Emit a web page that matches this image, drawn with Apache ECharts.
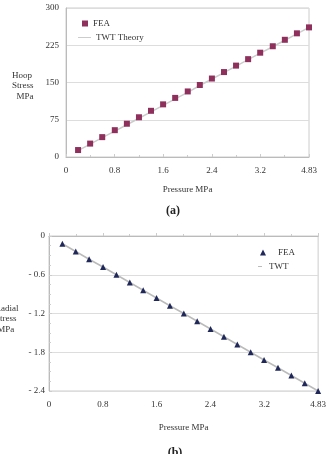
<!DOCTYPE html>
<html>
<head>
<meta charset="utf-8">
<script src="https://cdn.jsdelivr.net/npm/echarts@6/dist/echarts.min.js"></script>
<style>
html, body { margin: 0; padding: 0; background: #fff; }
#chart { width: 329px; height: 454px; }
</style>
</head>
<body>
<div id="chart"></div>
<script>
// pressure steps, MPa
const pressure = [0.24, 0.48, 0.72, 0.97, 1.21, 1.45, 1.69, 1.93, 2.17, 2.42,
                  2.66, 2.90, 3.14, 3.38, 3.62, 3.86, 4.11, 4.35, 4.59, 4.83];

const hoopFEA = [14, 27, 40, 54, 67, 80, 93, 106, 119, 132,
                 145, 158, 171, 184, 197, 210, 223, 236, 249, 261];
const hoopTWT = [13, 26, 39, 52, 65, 78, 91, 104, 117, 130,
                 144, 157, 170, 183, 196, 209, 222, 235, 248, 261];

const radialFEA = [-0.12, -0.24, -0.36, -0.48, -0.60, -0.72, -0.84, -0.96, -1.08, -1.20,
                   -1.32, -1.44, -1.56, -1.68, -1.80, -1.92, -2.04, -2.16, -2.28, -2.40];
const radialTWT = [-0.12, -0.24, -0.36, -0.48, -0.60, -0.72, -0.84, -0.96, -1.08, -1.20,
                   -1.32, -1.44, -1.56, -1.68, -1.80, -1.92, -2.04, -2.16, -2.28, -2.40];

const xTickLabels = ["0", "0.8", "1.6", "2.4", "3.2", "4.83"];

const serif = "Liberation Serif";
const textColor = "#333";
const xStep = 4.83 / 5;

function pairs(xs, ys) {
    return xs.map((x, i) => [x, ys[i]]);
}

function xAxisFor(gridIndex, nameGap) {
    return {
        gridIndex: gridIndex,
        type: "value",
        min: 0,
        max: 4.83,
        interval: xStep,
        name: "Pressure MPa",
        nameLocation: "middle",
        nameGap: nameGap,
        nameTextStyle: { fontFamily: serif, fontSize: 9, color: textColor },
        axisLine: { lineStyle: { color: "#bbb" } },
        axisTick: { inside: true, length: 3, lineStyle: { color: "#ccc" } },
        minorTick: { show: true, splitNumber: 2, length: 2, lineStyle: { color: "#ccc" } },
        splitLine: { show: false },
        axisLabel: {
            fontFamily: serif, fontSize: 9, color: textColor, margin: 9,
            formatter: v => xTickLabels[Math.round(v / xStep)]
        }
    };
}

const chart = echarts.init(document.getElementById("chart"));

chart.setOption({
    backgroundColor: "#fff",
    animation: false,
    grid: [
        { left: 66, top: 8, width: 243, height: 149, show: true, borderColor: "#ccc", borderWidth: 1 },
        { left: 49, top: 236, width: 273, height: 155, show: true, borderColor: "#ccc", borderWidth: 1 }
    ],
    legend: [
        {
            data: ["FEA"], left: 77, top: 14, icon: "rect",
            itemWidth: 6, itemHeight: 6, itemStyle: { opacity: 1 },
            textStyle: { fontFamily: serif, fontSize: 9, color: textColor }
        },
        {
            data: ["TWT Theory"], left: 73, top: 28, icon: "rect",
            itemWidth: 13, itemHeight: 1,
            textStyle: { fontFamily: serif, fontSize: 9, color: textColor }
        },
        {
            data: ["FEA "], left: 255, top: 243, icon: "triangle",
            itemWidth: 6, itemHeight: 6, itemStyle: { opacity: 1 },
            textStyle: { fontFamily: serif, fontSize: 9, color: textColor, padding: [0, 0, 0, 7] }
        },
        {
            data: ["TWT"], left: 253, top: 257, icon: "rect",
            itemWidth: 4, itemHeight: 1,
            textStyle: { fontFamily: serif, fontSize: 9, color: textColor, padding: [0, 0, 0, 2] }
        }
    ],
    xAxis: [xAxisFor(0, 28), xAxisFor(1, 32)],
    yAxis: [
        {
            gridIndex: 0, type: "value", min: 0, max: 300, interval: 75,
            axisLine: { show: true, lineStyle: { color: "#bbb" } },
            axisTick: { show: false },
            splitLine: { lineStyle: { color: "#ddd" } },
            axisLabel: { fontFamily: serif, fontSize: 9, color: textColor, margin: 7 }
        },
        {
            gridIndex: 1, type: "value", min: -2.4, max: 0, interval: 0.6,
            axisLine: { show: true, lineStyle: { color: "#bbb" } },
            axisTick: { show: true, inside: true, length: 3, lineStyle: { color: "#ccc" } },
            minorTick: { show: true, splitNumber: 4, length: 2, lineStyle: { color: "#ccc" } },
            splitLine: { lineStyle: { color: "#ddd" } },
            axisLabel: {
                fontFamily: serif, fontSize: 9, color: textColor, margin: 4,
                formatter: v => v === 0 ? "0" : "- " + Math.abs(v).toFixed(1)
            }
        }
    ],
    series: [
        {
            name: "TWT Theory", type: "line", xAxisIndex: 0, yAxisIndex: 0, z: 2,
            data: pairs(pressure, hoopTWT), showSymbol: false,
            color: "#ccc", lineStyle: { color: "#ccc", width: 1.5 }
        },
        {
            name: "FEA", type: "scatter", xAxisIndex: 0, yAxisIndex: 0, z: 5,
            data: pairs(pressure, hoopFEA), symbol: "rect", symbolSize: 6,
            itemStyle: { color: "#8e2f5c", opacity: 1 }
        },
        {
            name: "TWT", type: "line", xAxisIndex: 1, yAxisIndex: 1, z: 2,
            data: pairs(pressure, radialTWT), showSymbol: false,
            color: "#bbb", lineStyle: { color: "#bbb", width: 1.5 }
        },
        {
            name: "FEA ", type: "scatter", xAxisIndex: 1, yAxisIndex: 1, z: 5,
            data: pairs(pressure, radialFEA), symbol: "triangle", symbolSize: 6,
            itemStyle: { color: "#1f2858", opacity: 1 }
        }
    ],
    graphic: [
        {
            type: "text", left: 12, top: 70,
            style: { text: "Hoop\nStress\n  MPa", font: "9px " + serif, fill: textColor, lineHeight: 10.5 }
        },
        {
            type: "text", x: -5, y: 303,
            style: { text: "Radial\nStress\n MPa", font: "9px " + serif, fill: textColor, lineHeight: 10.5 }
        },
        {
            type: "text", x: 173, y: 211,
            style: { text: "(a)", font: "bold 12px " + serif, fill: "#222", align: "center", verticalAlign: "middle" }
        },
        {
            type: "text", x: 175, y: 447,
            style: { text: "(b)", font: "bold 12px " + serif, fill: "#222", align: "center", verticalAlign: "top" }
        }
    ]
});
</script>
</body>
</html>
